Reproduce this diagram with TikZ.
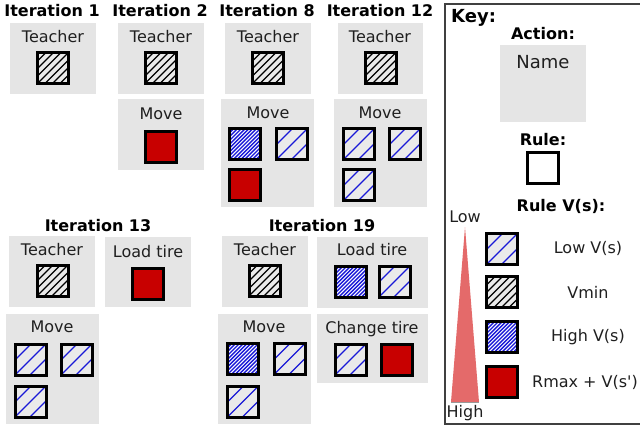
\documentclass[tikz,border=0pt]{standalone}
\usepackage{fontspec}
\setmainfont{DejaVu Sans}[Ligatures=TeXOff]
\definecolor{boxgray}{RGB}{229,229,229}
\definecolor{sqgray}{RGB}{234,234,234}
\definecolor{hblue}{RGB}{25,25,215}
\definecolor{rred}{RGB}{200,0,0}
\definecolor{trired}{RGB}{228,106,106}
\tikzset{
  sq/.style={draw=black, line width=3pt, minimum size=31pt, inner sep=0pt, outer sep=0pt},
  vmin/.style={sq, fill=sqgray, path picture={\foreach \k in {-6,...,6}{\draw[black,line width=1.1pt] ([xshift=\k*7.5pt]path picture bounding box.south west) -- ++(40pt,40pt);}}},
  lowv/.style={sq, fill=sqgray, path picture={\foreach \k in {-3,...,3}{\draw[hblue,line width=1.1pt] ([xshift=\k*15pt]path picture bounding box.south west) -- ++(40pt,40pt);}}},
  highv/.style={sq, fill=white, path picture={\foreach \k in {-12,...,12}{\draw[hblue,line width=1.4pt] ([xshift=\k*3.8pt]path picture bounding box.south west) -- ++(40pt,40pt);}}},
  rmax/.style={sq, fill=rred},
  emptysq/.style={sq, fill=white},
  ttl/.style={font=\fontsize{16}{18}\selectfont\bfseries, inner sep=0pt, text height=11.7pt, text depth=0pt},
  lbl/.style={font=\fontsize{16}{18}\selectfont, inner sep=0pt, text height=11.7pt, text depth=0pt, text=black!88},
  abox/.style={fill=boxgray},
}
\begin{document}
\begin{tikzpicture}[x=1pt,y=-1pt]
\useasboundingbox (0,0) rectangle (640,431);
% ---------------- Iteration 1
\node[ttl] (h1) at (52,11) {Iteration 1};
\fill[abox] (10,23) rectangle (96,94);
\node[lbl] (l1t) at (53,37) {Teacher};
\node[vmin] (s1t) at (53,68) {};
% ---------------- Iteration 2
\node[ttl] (h2) at (160,11) {Iteration 2};
\fill[abox] (118,23) rectangle (204,94);
\node[lbl] (l2t) at (161,37) {Teacher};
\node[vmin] (s2t) at (160.5,68) {};
\fill[abox] (118,99) rectangle (204,170);
\node[lbl] (l2m) at (161,114) {Move};
\node[rmax] (s2m) at (160.5,146.5) {};
% ---------------- Iteration 8
\node[ttl] (h8) at (267,11) {Iteration 8};
\fill[abox] (225,23) rectangle (311,94);
\node[lbl] (l8t) at (268,37) {Teacher};
\node[vmin] (s8t) at (268,68) {};
\fill[abox] (221,99) rectangle (314,207);
\node[lbl] (l8m) at (268,113) {Move};
\node[highv] (s8a) at (245,144) {};
\node[lowv] (s8b) at (292,144) {};
\node[rmax] (s8c) at (245,185) {};
% ---------------- Iteration 12
\node[ttl] (h12) at (380,11) {Iteration 12};
\fill[abox] (338,23) rectangle (423,94);
\node[lbl] (l12t) at (380,37) {Teacher};
\node[vmin] (s12t) at (380.5,68) {};
\fill[abox] (334,99) rectangle (427,207);
\node[lbl] (l12m) at (380,113) {Move};
\node[lowv] (s12a) at (359,144) {};
\node[lowv] (s12b) at (405,144) {};
\node[lowv] (s12c) at (359,185) {};
% ---------------- Iteration 13
\node[ttl] (h13) at (98,226) {Iteration 13};
\fill[abox] (9,236) rectangle (95,307);
\node[lbl] (l13t) at (52,250) {Teacher};
\node[vmin] (s13t) at (52.5,280.5) {};
\fill[abox] (105,237) rectangle (191,307);
\node[lbl] (l13l) at (148,252) {Load tire};
\node[rmax] (s13l) at (147.5,284) {};
\fill[abox] (6,314) rectangle (99,424);
\node[lbl] (l13m) at (52,327) {Move};
\node[lowv] (s13a) at (30.5,359.5) {};
\node[lowv] (s13b) at (76.5,359.5) {};
\node[lowv] (s13c) at (30.5,401.5) {};
% ---------------- Iteration 19
\node[ttl] (h19) at (322,226) {Iteration 19};
\fill[abox] (222,236) rectangle (308,307);
\node[lbl] (l19t) at (265,250) {Teacher};
\node[vmin] (s19t) at (264.5,280.5) {};
\fill[abox] (317,237) rectangle (428,308);
\node[lbl] (l19l) at (372,250) {Load tire};
\node[highv] (s19la) at (350.5,281.5) {};
\node[lowv] (s19lb) at (394.5,281.5) {};
\fill[abox] (218,314) rectangle (311,424);
\node[lbl] (l19m) at (264,327) {Move};
\node[highv] (s19ma) at (243,359) {};
\node[lowv] (s19mb) at (289.5,359) {};
\node[lowv] (s19mc) at (243,401.5) {};
\fill[abox] (317,314) rectangle (428,383);
\node[lbl] (l19c) at (372,328) {Change tire};
\node[lowv] (s19ca) at (350.5,359.5) {};
\node[rmax] (s19cb) at (397,359.5) {};
% ---------------- Key
\draw[line width=1.3pt, black!75] (650,4) -- (445,4) -- (445,424) -- (650,424);
\node[ttl, font=\fontsize{18}{20}\selectfont\bfseries, text height=13.1pt, anchor=west] (key) at (451,16) {Key:};
\node[ttl] (kact) at (543,34) {Action:};
\fill[abox] (500,45) rectangle (586,122);
\node[lbl, font=\fontsize{18}{20}\selectfont, text height=13.1pt] (kname) at (543,62) {Name};
\node[ttl] (krule) at (543,140) {Rule:};
\node[emptysq] (ksq) at (543,168) {};
\node[ttl] (krv) at (561,206) {Rule V(s):};
\node[lbl] (klow) at (465,217) {Low};
\node[lbl] (khigh) at (465,412) {High};
\fill[trired] (465,227) -- (451,402) -- (479,402) -- cycle;
\draw[black!40, line width=0.8pt] (451,402) -- (479,402);
\node[lowv] (kq1) at (502,249) {};
\node[vmin] (kq2) at (502,292) {};
\node[highv] (kq3) at (502,337) {};
\node[rmax] (kq4) at (502,382) {};
\node[lbl] (kt1) at (588,248) {Low V(s)};
\node[lbl] (kt2) at (588,293) {Vmin};
\node[lbl] (kt3) at (588,336) {High V(s)};
\node[lbl] (kt4) at (585,382) {Rmax + V(s')};
\end{tikzpicture}
\end{document}
